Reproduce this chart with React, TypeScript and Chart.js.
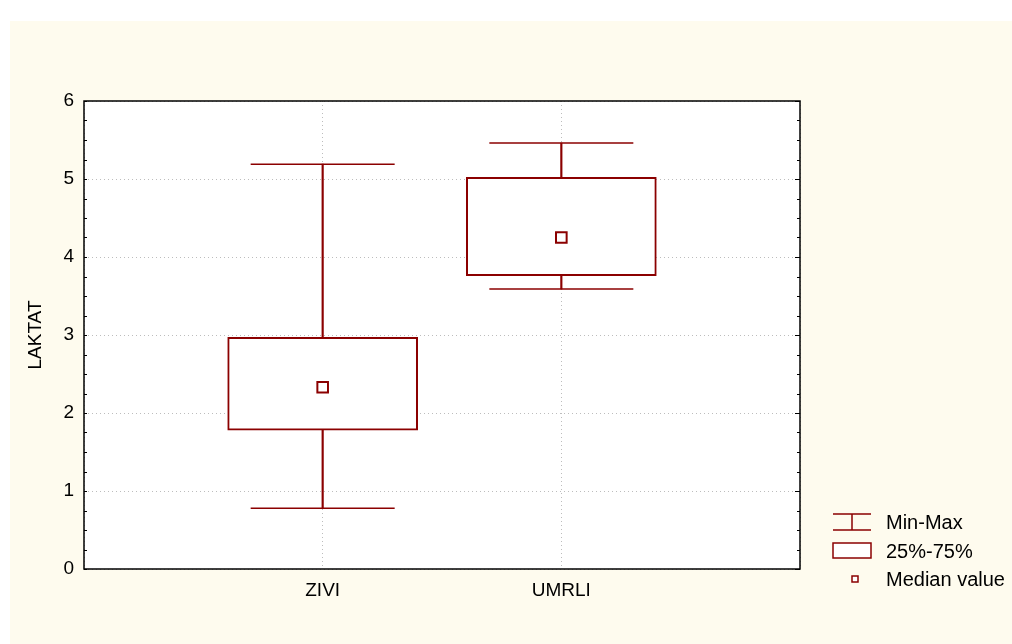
import React, { useEffect, useRef } from 'react';
import { Chart, registerables } from 'chart.js';

Chart.register(...registerables);

// ---- Data ----
const categories = ['ZIVI', 'UMRLI'];
const minValues = [0.78, 3.59];
const q1Values = [1.78, 3.76];
const medianValues = [2.33, 4.25];
const q3Values = [2.97, 5.02];
const maxValues = [5.19, 5.46];
const yAxisTitle = 'LAKTAT';
const yMin = 0;
const yMax = 6;
const yStep = 1;
const legendLabels = ['Min-Max', '25%-75%', 'Median value'];

// ---- Styles ----
const RED = '#8b0000';
const CREAM = '#fefbee';
const GRID = '#bdbdbd';
const FONT_FAMILY = "'Liberation Sans', Arial, Helvetica, sans-serif";
const MINOR_STEP = 0.25;

const padArr = (arr: any[]) => [null, ...arr, null];
const axisLabels = ['', ...categories, ''];

const backgroundPlugin = {
  id: 'bgPlugin',
  beforeDraw(chart: any) {
    const { ctx, chartArea: a } = chart;
    ctx.save();
    ctx.fillStyle = CREAM;
    ctx.fillRect(10, 21, chart.width - 10, chart.height - 21);
    ctx.fillStyle = '#ffffff';
    ctx.fillRect(a.left, a.top, a.right - a.left, a.bottom - a.top);
    ctx.restore();
  },
};

const framePlugin = {
  id: 'framePlugin',
  afterDraw(chart: any) {
    const { ctx, chartArea: a } = chart;
    const y = chart.scales.y;
    ctx.save();
    // minor / major inner ticks
    ctx.strokeStyle = '#000';
    ctx.lineWidth = 1;
    ctx.beginPath();
    for (let v = y.min; v <= y.max + 1e-9; v += MINOR_STEP) {
      const py = Math.round(y.getPixelForValue(v)) + 0.5;
      const major = Math.abs(v - Math.round(v)) < 1e-9;
      ctx.moveTo(a.left, py);
      ctx.lineTo(a.left + 3, py);
      ctx.moveTo(a.right, py);
      ctx.lineTo(a.right - (major ? 5 : 3), py);
    }
    ctx.stroke();
    // frame
    ctx.lineWidth = 1.5;
    ctx.strokeRect(a.left, a.top, a.right - a.left, a.bottom - a.top);

    // legend
    const lx0 = 833;
    const lx1 = 871;
    const lcx = 852;
    const tx = 886;
    ctx.strokeStyle = RED;
    ctx.lineWidth = 1.5;
    // Min-Max icon
    ctx.beginPath();
    ctx.moveTo(lx0, 514);
    ctx.lineTo(lx1, 514);
    ctx.moveTo(lx0, 530);
    ctx.lineTo(lx1, 530);
    ctx.moveTo(lcx, 514);
    ctx.lineTo(lcx, 530);
    ctx.stroke();
    // box icon
    ctx.fillStyle = '#fff';
    ctx.fillRect(lx0, 543, lx1 - lx0, 15);
    ctx.strokeRect(lx0, 543, lx1 - lx0, 15);
    // median icon
    ctx.fillRect(852, 576, 6, 6);
    ctx.strokeRect(852, 576, 6, 6);

    ctx.fillStyle = '#000';
    ctx.font = `20px ${FONT_FAMILY}`;
    ctx.textAlign = 'left';
    ctx.textBaseline = 'middle';
    ctx.fillText(legendLabels[0], tx, 523);
    ctx.fillText(legendLabels[1], tx, 552);
    ctx.fillText(legendLabels[2], tx, 580);
    ctx.restore();
  },
};

export default function App() {
  const ref = useRef<HTMLCanvasElement>(null);

  useEffect(() => {
    if (!ref.current) return;
    const tickFont = { family: FONT_FAMILY, size: 19 };
    const chart = new Chart(ref.current, {
      type: 'bar',
      data: {
        labels: axisLabels,
        datasets: [
          {
            type: 'bar',
            label: 'whisker',
            data: padArr(categories.map((_, i) => [minValues[i], maxValues[i]])),
            backgroundColor: RED,
            borderWidth: 0,
            barThickness: 1.5,
            grouped: false,
            order: 3,
          } as any,
          {
            type: 'bar',
            label: 'box',
            data: padArr(categories.map((_, i) => [q1Values[i], q3Values[i]])),
            backgroundColor: '#ffffff',
            borderColor: RED,
            borderWidth: 2,
            borderSkipped: false,
            barThickness: 190,
            grouped: false,
            order: 2,
          } as any,
          {
            type: 'line',
            label: 'max',
            data: padArr(maxValues),
            showLine: false,
            pointStyle: 'line',
            pointRadius: 72,
            pointBorderColor: RED,
            pointBorderWidth: 1.5,
            order: 1,
          } as any,
          {
            type: 'line',
            label: 'min',
            data: padArr(minValues),
            showLine: false,
            pointStyle: 'line',
            pointRadius: 72,
            pointBorderColor: RED,
            pointBorderWidth: 1.5,
            order: 1,
          } as any,
          {
            type: 'line',
            label: 'median',
            data: padArr(medianValues),
            showLine: false,
            pointStyle: 'rect',
            pointRadius: 7.5,
            pointBackgroundColor: '#ffffff',
            pointBorderColor: RED,
            pointBorderWidth: 2,
            order: 0,
          } as any,
        ],
      },
      options: {
        responsive: false,
        animation: false,
        events: [],
        layout: { padding: { left: 0, top: 101, right: 212, bottom: 0 } },
        plugins: {
          legend: { display: false },
          tooltip: { enabled: false },
        },
        scales: {
          x: {
            type: 'category',
            offset: false,
            ticks: { padding: 10, font: tickFont, color: '#000', autoSkip: false, maxRotation: 0 },
            grid: { color: GRID, drawTicks: false, lineWidth: 1, offset: false },
            border: { display: false, dash: [1, 3] },
            afterFit: (s: any) => {
              s.height = 75;
            },
          },
          y: {
            min: yMin,
            max: yMax,
            ticks: { stepSize: yStep, padding: 10, font: tickFont, color: '#000' },
            grid: { color: GRID, drawTicks: false, lineWidth: 1 },
            border: { display: false, dash: [1, 3] },
            title: {
              display: true,
              text: yAxisTitle,
              font: tickFont,
              color: '#000',
              padding: { top: 24.6, bottom: 0 },
            },
            afterFit: (s: any) => {
              s.width = 84;
            },
          },
        },
      } as any,
      plugins: [backgroundPlugin, framePlugin],
    });
    return () => chart.destroy();
  }, []);

  return (
    <div style={{ position: 'absolute', left: 0, top: 0, width: 1012, height: 644, background: '#fff' }}>
      <canvas ref={ref} width={1012} height={644} style={{ display: 'block', width: 1012, height: 644 }} />
    </div>
  );
}
